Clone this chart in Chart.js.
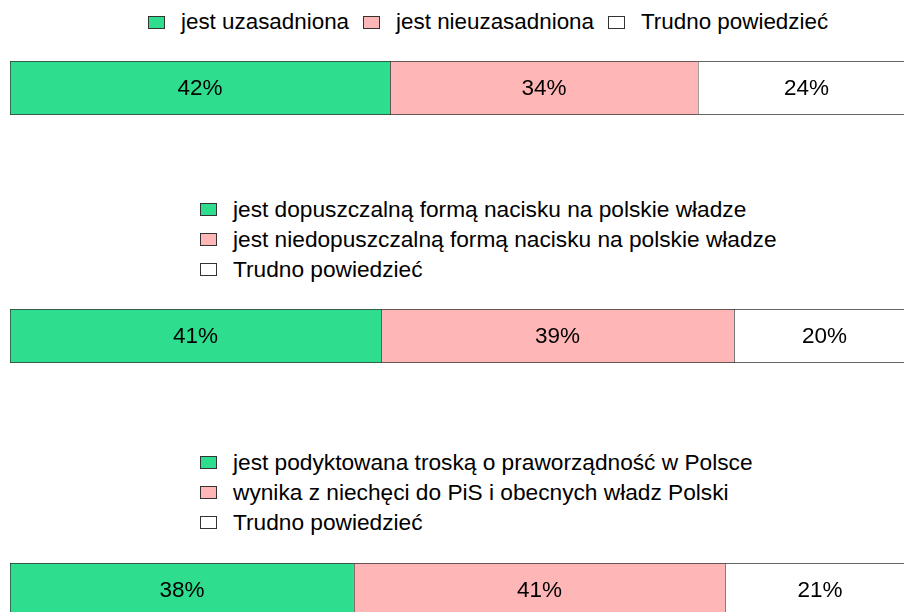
<!DOCTYPE html>
<html>
<head>
<meta charset="utf-8">
<script src="https://cdn.jsdelivr.net/npm/chart.js@4.4.1/dist/chart.umd.min.js"></script>
<style>
  html, body { margin: 0; padding: 0; background: #fff; overflow: hidden; }
  body { width: 904px; height: 612px; position: relative; font-family: "Liberation Sans", Arial, sans-serif; }
  .bar { position: absolute; left: 0; width: 915px; height: 54px; }
  .legend { position: absolute; font-size: 22.7px; color: #000; }
  .legend .item { display: flex; align-items: center; height: 30.3px; white-space: nowrap; }
  .legend.row { display: flex; font-size: 22.4px; }
  .legend.row .item { margin-right: 14px; }
  .legend .box { width: 15px; height: 11px; border: 1px solid #333; margin-right: 16px; box-sizing: content-box; }
</style>
</head>
<body>
<div class="legend row" id="legend1" style="left:148px; top:7px;"></div>
<div class="bar" style="top:61px;"><canvas id="chart1"></canvas></div>

<div class="legend" id="legend2" style="left:200px; top:194px;"></div>
<div class="bar" style="top:309px;"><canvas id="chart2"></canvas></div>

<div class="legend" id="legend3" style="left:200px; top:447px;"></div>
<div class="bar" style="top:563px;"><canvas id="chart3"></canvas></div>

<script>
const segmentColors = ["#2EDD8E", "#FFB6B6", "#FFFFFF"];

const labels1 = ["jest uzasadniona", "jest nieuzasadniona", "Trudno powiedzieć"];
const values1 = [42, 34, 24];

const labels2 = [
  "jest dopuszczalną formą nacisku na polskie władze",
  "jest niedopuszczalną formą nacisku na polskie władze",
  "Trudno powiedzieć",
];
const values2 = [41, 39, 20];

const labels3 = [
  "jest podyktowana troską o praworządność w Polsce",
  "wynika z niechęci do PiS i obecnych władz Polski",
  "Trudno powiedzieć",
];
const values3 = [38, 41, 21];

// draws "42%" etc. centred in each segment
const valueLabels = {
  id: "valueLabels",
  afterDatasetsDraw(chart) {
    const ctx = chart.ctx;
    ctx.save();
    ctx.font = "22.5px 'Liberation Sans', Arial, sans-serif";
    ctx.fillStyle = "#000";
    ctx.textAlign = "center";
    ctx.textBaseline = "middle";
    chart.data.datasets.forEach((ds, i) => {
      chart.getDatasetMeta(i).data.forEach((bar, j) => {
        const { x, base, y } = bar.getProps(["x", "base", "y"], true);
        ctx.fillText(ds.data[j] + "%", (x + base) / 2, y + 1);
      });
    });
    ctx.restore();
  },
};

function buildLegend(el, labels) {
  labels.forEach((text, i) => {
    const item = document.createElement("div");
    item.className = "item";
    const box = document.createElement("span");
    box.className = "box";
    box.style.background = segmentColors[i];
    const span = document.createElement("span");
    span.textContent = text;
    item.appendChild(box);
    item.appendChild(span);
    el.appendChild(item);
  });
}

function renderBar(canvas, labels, values) {
  return new Chart(canvas, {
    type: "bar",
    data: {
      labels: [""],
      datasets: values.map((v, i) => ({
        label: labels[i],
        data: [v],
        backgroundColor: segmentColors[i],
        borderColor: "#333",
        borderWidth: { top: 1, bottom: 1, left: 1, right: 0 },
        borderSkipped: false,
        barPercentage: 1,
        categoryPercentage: 1,
      })),
    },
    options: {
      indexAxis: "y",
      responsive: true,
      maintainAspectRatio: false,
      animation: false,
      layout: { padding: { left: 10, right: 0, top: 0, bottom: 0 } },
      plugins: {
        legend: { display: false },
        tooltip: { enabled: false },
      },
      scales: {
        x: { stacked: true, min: 0, max: 100, display: false },
        y: { stacked: true, display: false },
      },
    },
    plugins: [valueLabels],
  });
}

buildLegend(document.getElementById("legend1"), labels1);
buildLegend(document.getElementById("legend2"), labels2);
buildLegend(document.getElementById("legend3"), labels3);

renderBar(document.getElementById("chart1"), labels1, values1);
renderBar(document.getElementById("chart2"), labels2, values2);
renderBar(document.getElementById("chart3"), labels3, values3);
</script>
</body>
</html>
